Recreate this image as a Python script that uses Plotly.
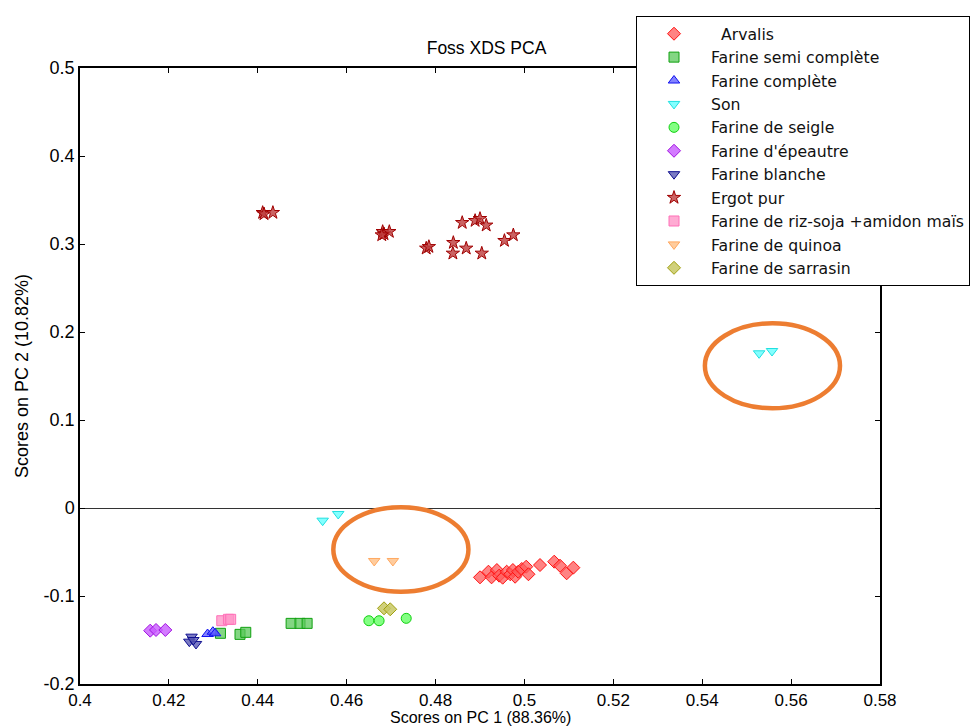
import plotly.graph_objects as go

# PCA scores (PC1, PC2) per sample group
arvalis_x = [0.4900, 0.4919, 0.4926, 0.4938, 0.4943, 0.4951, 0.4960, 0.4968, 0.4974, 0.4979,
             0.4986, 0.4994, 0.5004, 0.5009, 0.5035, 0.5067, 0.5080, 0.5095, 0.5110]
arvalis_y = [-0.0788, -0.0724, -0.0788, -0.0705, -0.0769, -0.0792, -0.0724, -0.0753, -0.0705, -0.0781,
             -0.0724, -0.0693, -0.0667, -0.0753, -0.0648, -0.0610, -0.0656, -0.0742, -0.0678]

semi_x = [0.4316, 0.4360, 0.4373, 0.4475, 0.4495, 0.4511]
semi_y = [-0.1424, -0.1436, -0.1413, -0.1311, -0.1311, -0.1311]

complete_x = [0.4287, 0.4299, 0.4304]
complete_y = [-0.1432, -0.1406, -0.1424]

son_x = [0.4546, 0.4581, 0.5528, 0.5557]
son_y = [-0.0144, -0.0068, 0.1758, 0.1784]

seigle_x = [0.4650, 0.4673, 0.4734]
seigle_y = [-0.1281, -0.1281, -0.1254]

epeautre_x = [0.4158, 0.4171, 0.4192]
epeautre_y = [-0.1394, -0.1386, -0.1386]

blanche_x = [0.4251, 0.4246, 0.4261, 0.4255]
blanche_y = [-0.1462, -0.1519, -0.1545, -0.1500]

ergot_x = [0.4411, 0.4414, 0.4434, 0.4681, 0.4684, 0.4696, 0.4679, 0.4779, 0.4785, 0.4840,
           0.4839, 0.4860, 0.4869, 0.4889, 0.4900, 0.4914, 0.4904, 0.4955, 0.4975]
ergot_y = [0.3356, 0.3341, 0.3356, 0.3140, 0.3114, 0.3140, 0.3102, 0.2951, 0.2969, 0.3015,
           0.2894, 0.3242, 0.2951, 0.3265, 0.3288, 0.3213, 0.2894, 0.3038, 0.3102]

riz_x = [0.4319, 0.4334, 0.4339]
riz_y = [-0.1281, -0.1265, -0.1265]

quinoa_x = [0.4662, 0.4704]
quinoa_y = [-0.0602, -0.0602]

sarrasin_x = [0.4684, 0.4698]
sarrasin_y = [-0.1140, -0.1151]

# highlighted regions: (centre x, centre y, half-width, half-height)
highlights = [(0.4722, -0.0472, 0.0152, 0.0480),
              (0.5558, 0.1616, 0.0152, 0.0483)]

x_ticks = [0.4, 0.42, 0.44, 0.46, 0.48, 0.5, 0.52, 0.54, 0.56, 0.58]
x_tick_text = ["0.4", "0.42", "0.44", "0.46", "0.48", "0.5", "0.52", "0.54", "0.56", "0.58"]
y_ticks = [-0.2, -0.1, 0, 0.1, 0.2, 0.3, 0.4, 0.5]
y_tick_text = ["-0.2", "-0.1", "0", "0.1", "0.2", "0.3", "0.4", "0.5"]

groups = [
    ("\u00a0\u00a0Arvalis", arvalis_x, arvalis_y, "diamond", 10, "rgba(255,90,90,0.75)", "#FF1010"),
    ("Farine semi complète", semi_x, semi_y, "square", 10, "rgba(90,200,90,0.75)", "#10A010"),
    ("Farine complète", complete_x, complete_y, "triangle-up", 10, "rgba(90,90,255,0.75)", "#1010F0"),
    ("Son", son_x, son_y, "triangle-down", 10, "rgba(100,255,255,0.8)", "#20E0E0"),
    ("Farine de seigle", seigle_x, seigle_y, "circle", 10, "rgba(100,255,100,0.8)", "#10D010"),
    ("Farine d'épeautre", epeautre_x, epeautre_y, "diamond", 10, "rgba(200,90,255,0.8)", "#A010E0"),
    ("Farine blanche", blanche_x, blanche_y, "triangle-down", 10, "rgba(90,90,180,0.8)", "#101090"),
    ("Ergot pur", ergot_x, ergot_y, "star", 10, "rgba(190,60,60,0.8)", "#A00000"),
    ("Farine de riz-soja +amidon maïs", riz_x, riz_y, "square", 10, "rgba(255,150,200,0.8)", "#FF70B8"),
    ("Farine de quinoa", quinoa_x, quinoa_y, "triangle-down", 10, "rgba(255,195,140,0.85)", "#FFA860"),
    ("Farine de sarrasin", sarrasin_x, sarrasin_y, "diamond", 10, "rgba(200,200,100,0.85)", "#A0A010"),
]

fig = go.Figure()
for name, xs, ys, symbol, size, fill, edge in groups:
    fig.add_trace(go.Scatter(
        x=xs, y=ys, mode="markers", name=name,
        marker=dict(symbol=symbol, size=size, color=fill, line=dict(color=edge, width=1)),
    ))

for cx, cy, rx, ry in highlights:
    fig.add_shape(type="circle", xref="x", yref="y",
                  x0=cx - rx, x1=cx + rx, y0=cy - ry, y1=cy + ry,
                  line=dict(color="#ED7D31", width=4.5), layer="above")

base = "Liberation Sans, Arial, sans-serif"
tick_font = dict(family=base, size=17, color="#000")
label_font = dict(family=base, size=18, color="#000")

# x-axis title placed just below the tick labels
fig.add_annotation(text="Scores on PC 1 (88.36%)", xref="paper", yref="paper",
                   x=0.5, y=-(728 - 684) / 616, xanchor="center", yanchor="bottom",
                   showarrow=False, font=dict(family=base, size=16, color="#000"))

fig.update_layout(
    width=973, height=727,
    margin=dict(l=80, r=93, t=68, b=43, autoexpand=False),
    plot_bgcolor="white", paper_bgcolor="white",
    title=dict(text="Foss XDS PCA", x=0.5, xanchor="center", y=1 - 48 / 727, yanchor="middle",
               font=dict(family=base, size=17.5, color="#000")),
    xaxis=dict(range=[0.4, 0.58], tickvals=x_ticks, ticktext=x_tick_text,
               ticks="inside", ticklen=5, tickcolor="#000", mirror="allticks",
               showline=True, linecolor="#000", linewidth=1.5, showgrid=False, zeroline=False,
               tickfont=tick_font),
    yaxis=dict(range=[-0.2, 0.5], tickvals=y_ticks, ticktext=y_tick_text,
               ticks="inside", ticklen=5, tickcolor="#000", mirror="allticks",
               showline=True, linecolor="#000", linewidth=1.5, showgrid=False,
               zeroline=True, zerolinecolor="#333", zerolinewidth=1,
               tickfont=dict(family=base, size=18, color="#000"),
               title=dict(text="Scores on PC 2 (10.82%)", font=label_font, standoff=10)),
    legend=dict(x=(636 - 80) / 800, y=1 + (68 - 16) / 616, xanchor="left", yanchor="top",
                bgcolor="white", bordercolor="#000", borderwidth=1,
                font=dict(family="DejaVu Sans, sans-serif", size=15.7, color="#111"),
                itemwidth=64, tracegroupgap=0),
    showlegend=True,
)

fig.write_html("out.html")
